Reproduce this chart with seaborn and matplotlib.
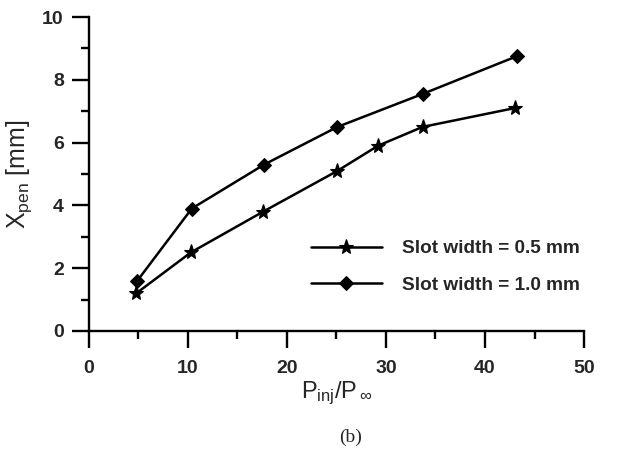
import numpy as np
import pandas as pd
import matplotlib
matplotlib.use('Agg')
import matplotlib.pyplot as plt
import seaborn as sns
from matplotlib.ticker import MultipleLocator

# --- data ---
p_ratio_05 = [4.8, 10.3, 17.6, 25.1, 29.2, 33.7, 43.0]
xpen_05    = [1.2, 2.5, 3.8, 5.1, 5.9, 6.5, 7.1]
p_ratio_10 = [4.9, 10.4, 17.7, 25.1, 33.7, 43.2]
xpen_10    = [1.6, 3.9, 5.3, 6.5, 7.55, 8.75]
label_05 = 'Slot width = 0.5 mm'
label_10 = 'Slot width = 1.0 mm'

sns.set_style('ticks')
plt.rcParams['font.family'] = ['Liberation Sans', 'DejaVu Sans']
plt.rcParams['mathtext.fontset'] = 'custom'
plt.rcParams['mathtext.rm'] = 'Liberation Sans'
plt.rcParams['mathtext.it'] = 'Liberation Sans:italic'
plt.rcParams['mathtext.bf'] = 'Liberation Sans:bold'

fig = plt.figure(figsize=(6.39, 4.49), dpi=100)
ax = fig.add_axes([0.139, 0.263, 0.775, 0.699])

sns.lineplot(x=p_ratio_05, y=xpen_05, color='black', marker='*', markersize=11,
             markeredgecolor='black', markeredgewidth=0.8, lw=1.8, sort=False,
             label=label_05, ax=ax)
sns.lineplot(x=p_ratio_10, y=xpen_10, color='black', marker='D', markersize=7.5,
             markeredgecolor='black', lw=1.8, sort=False, label=label_10, ax=ax)

ax.set_xlim(0, 50); ax.set_ylim(0, 10)
ax.xaxis.set_major_locator(MultipleLocator(10)); ax.xaxis.set_minor_locator(MultipleLocator(5))
ax.yaxis.set_major_locator(MultipleLocator(2)); ax.yaxis.set_minor_locator(MultipleLocator(1))
for s in ['top', 'right']:
    ax.spines[s].set_visible(False)
for s in ['left', 'bottom']:
    ax.spines[s].set_linewidth(1.7); ax.spines[s].set_color('black')
ax.tick_params(which='major', direction='out', length=12, width=1.7, color='black')
ax.tick_params(which='minor', direction='out', length=6, width=1.7, color='black')
ax.tick_params(axis='x', which='major', pad=9)
ax.tick_params(axis='y', which='major', pad=6)
for t in ax.get_xticklabels() + ax.get_yticklabels():
    t.set_fontsize(14); t.set_fontweight('bold')

ax.set_xlabel(r'P$_{\rm inj}$/P$_{\,\infty}$', fontsize=17, labelpad=2)
ax.set_ylabel(r'X$_{\rm pen}$ [mm]', fontsize=18, labelpad=6)

h, l = ax.get_legend_handles_labels()
ax.legend(h, l, loc='upper left', bbox_to_anchor=(0.43, 0.32), frameon=False,
          borderpad=0, handlelength=3.7, handletextpad=1.05, labelspacing=1.0,
          prop={'size': 13.7, 'weight': 'bold'})

fig.text(0.548, 0.027, '(b)', family='Liberation Serif', fontsize=14, ha='center', va='center')

plt.savefig('out.png', dpi=100)
